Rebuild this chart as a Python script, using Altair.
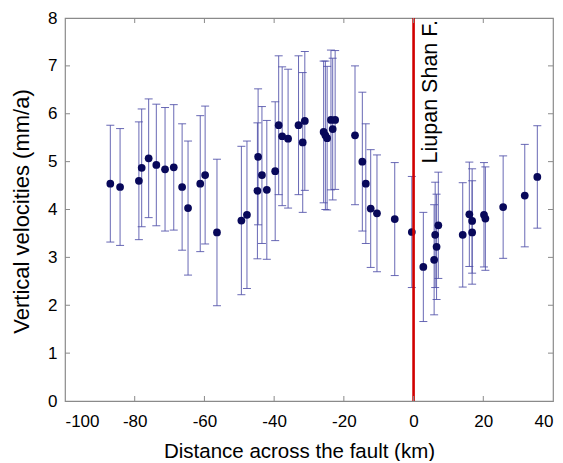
import altair as alt
import pandas as pd

# Distance across the fault (km)
dist = [-87.0, -84.2, -78.8, -78.0, -76.0, -73.8, -71.3, -68.8, -66.4, -64.7,
        -61.2, -59.8, -56.4, -49.4, -47.8, -44.6, -44.8, -43.5, -42.1, -39.7,
        -38.7, -37.7, -36.0, -33.0, -31.8, -31.2, -25.8, -25.3, -24.8, -23.7,
        -22.5, -23.2, -16.8, -14.7, -13.7, -12.3, -10.5, -5.4, -0.5, 2.8,
        5.9, 6.6, 6.2, 7.1, 14.1, 16.0, 16.8, 16.8, 20.2, 20.6,
        25.7, 31.9, 35.5]
# Vertical velocities (mm/a)
vel = [4.54, 4.47, 4.60, 4.87, 5.07, 4.93, 4.84, 4.88, 4.47, 4.03,
       4.54, 4.72, 3.52, 3.77, 3.89, 5.10, 4.39, 4.72, 4.41, 4.80,
       5.76, 5.53, 5.48, 5.76, 5.40, 5.85, 5.62, 5.55, 5.49, 5.87,
       5.87, 5.68, 5.55, 5.00, 4.54, 4.02, 3.92, 3.80, 3.53, 2.80,
       2.95, 3.22, 3.47, 3.67, 3.47, 3.90, 3.76, 3.52, 3.89, 3.81,
       4.05, 4.29, 4.68]
# Error (half-width, mm/a)
err = [1.22, 1.22, 1.23, 1.23, 1.24, 1.27, 1.29, 1.31, 1.32, 1.40,
       1.42, 1.44, 1.53, 1.55, 1.54, 1.42, 1.42, 1.43, 1.45, 1.45,
       1.45, 1.45, 1.45, 1.45, 1.46, 1.45, 1.48, 1.55, 1.50, 1.46,
       1.45, 1.48, 1.45, 1.45, 1.25, 1.23, 1.22, 1.18, 1.16, 1.14,
       1.15, 1.10, 1.10, 1.11, 1.09, 1.09, 1.09, 1.08, 1.09, 1.08,
       1.07, 1.07, 1.07]

x_ticks = [-100, -80, -60, -40, -20, 0, 20, 40]
y_ticks = [0, 1, 2, 3, 4, 5, 6, 7, 8]
fault_x = 0
fault_label = "Liupan Shan F."

df = pd.DataFrame({"d": dist, "v": vel, "e": err})
df["lo"] = df["v"] - df["e"]
df["hi"] = df["v"] + df["e"]

W, H = 488, 383
REG = "Liberation Sans, Arial, Helvetica"

xs = alt.Scale(domain=[-100, 40], nice=False)
ys = alt.Scale(domain=[0, 8], nice=False)

base = alt.Chart(df)
ebar_col = "#4f4fa8"

bars = base.mark_rule(color=ebar_col, strokeWidth=1, opacity=0.85).encode(
    x=alt.X("d:Q", scale=xs,
            axis=alt.Axis(values=x_ticks, title="Distance across the fault (km)",
                          labelExpr="'' + datum.value",
                          labelFont=REG, labelFontSize=17, labelColor="black",
                          labelPadding=12, titleFont=REG, titleFontSize=20.5,
                          titleFontWeight="normal", titleColor="black",
                          titleX=234, titleY=56, titleBaseline="alphabetic",
                          ticks=False, domain=False, grid=False)),
    y=alt.Y("lo:Q", scale=ys,
            axis=alt.Axis(values=y_ticks, title="Vertical velocities (mm/a)",
                          labelFont=REG, labelFontSize=17, labelColor="black",
                          labelPadding=8, titleFont=REG, titleFontSize=22,
                          titleFontWeight="normal", titleColor="black",
                          titleX=-37, titleY=193, titleBaseline="alphabetic",
                          ticks=False, domain=False, grid=False)),
    y2="hi:Q",
)
cap_lo = base.mark_rule(color=ebar_col, strokeWidth=1, opacity=0.85,
                        xOffset=-4, x2Offset=4).encode(
    x=alt.X("d:Q", scale=xs), x2="d:Q",
    y=alt.Y("lo:Q", scale=ys),
)
cap_hi = base.mark_rule(color=ebar_col, strokeWidth=1, opacity=0.85,
                        xOffset=-4, x2Offset=4).encode(
    x=alt.X("d:Q", scale=xs), x2="d:Q",
    y=alt.Y("hi:Q", scale=ys),
)
pts = base.mark_circle(color="#08085a", opacity=1, size=60).encode(
    x=alt.X("d:Q", scale=xs), y=alt.Y("v:Q", scale=ys)
)

fault = alt.Chart(pd.DataFrame({"x": [fault_x]})).mark_rule(
    color="#d10000", strokeWidth=2.6).encode(
    x=alt.X("x:Q", scale=xs), y=alt.value(0), y2=alt.value(H))

label = alt.Chart(pd.DataFrame({"t": [fault_label]})).mark_text(
    angle=270, align="right", baseline="top", font=REG, fontSize=21.5,
    color="black").encode(
    x=alt.value(355), y=alt.value(2), text="t:N")

# inward frame ticks
xt = pd.DataFrame({"x": x_ticks[1:-1]})
yt = pd.DataFrame({"y": y_ticks[1:-1]})
tick_col = "#8a8a8a"
xt_bot = alt.Chart(xt).mark_rule(color=tick_col).encode(
    x=alt.X("x:Q", scale=xs), y=alt.value(H), y2=alt.value(H - 5))
xt_top = alt.Chart(xt).mark_rule(color=tick_col).encode(
    x=alt.X("x:Q", scale=xs), y=alt.value(0), y2=alt.value(5))
yt_left = alt.Chart(yt).mark_rule(color=tick_col).encode(
    y=alt.Y("y:Q", scale=ys), x=alt.value(0), x2=alt.value(5))
yt_right = alt.Chart(yt).mark_rule(color=tick_col).encode(
    y=alt.Y("y:Q", scale=ys), x=alt.value(W), x2=alt.value(W - 5))

chart = alt.layer(
    bars, cap_lo, cap_hi, pts, fault, label, xt_bot, xt_top, yt_left, yt_right
).properties(
    width=W, height=H,
    autosize=alt.AutoSizeParams(type="none"),
    padding={"left": 57, "top": 10, "right": 2, "bottom": 60},
    background="white",
).configure_view(stroke="#8a8a8a", strokeWidth=1.2)

chart.save("out.html", embed_options={"renderer": "svg", "actions": False})
